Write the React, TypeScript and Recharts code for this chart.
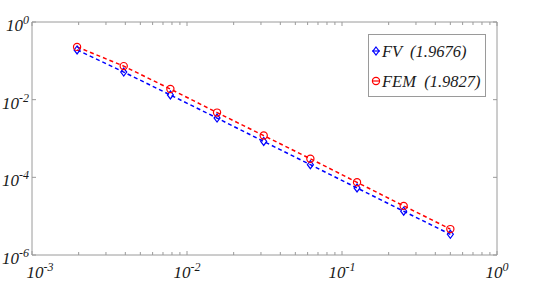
import React from 'react';
import { LineChart, Line, XAxis, YAxis, ReferenceArea } from 'recharts';

// mesh sizes h
const hValues = [1 / 512, 1 / 256, 1 / 128, 1 / 64, 1 / 32, 1 / 16, 1 / 8, 1 / 4, 1 / 2];
// errors
const fvErrors = [0.1914, 0.0513, 0.0132, 3.36e-3, 8.38e-4, 2.12e-4, 5.32e-5, 1.34e-5, 3.4e-6];
const femErrors = [0.2286, 0.0731, 0.0188, 4.65e-3, 1.19e-3, 3.01e-4, 7.45e-5, 1.84e-5, 4.65e-6];

const seriesNames = ['FV  (1.9676)', 'FEM  (1.9827)'];

const xMajorTicks = [0.001, 0.01, 0.1, 1];
const xMajorExponents = ['-3', '-2', '-1', '0'];
const xMinorTicks = [
  0.002, 0.003, 0.004, 0.005, 0.006, 0.007, 0.008, 0.009,
  0.02, 0.03, 0.04, 0.05, 0.06, 0.07, 0.08, 0.09,
  0.2, 0.3, 0.4, 0.5, 0.6, 0.7, 0.8, 0.9,
];
const yMajorTicks = [1e-6, 1e-4, 1e-2, 1];
const yMajorExponents = ['-6', '-4', '-2', '0'];

const data = hValues.map((h, i) => ({ h, fv: fvErrors[i], fem: femErrors[i] }));

const W = 554;
const H = 287;
const PLOT_LEFT = 32;
const PLOT_RIGHT = 497;
const PLOT_TOP = 22;
const PLOT_BOTTOM = 255;
const AXIS_COLOR = '#9a9a9a';
const FONT = 'Liberation Serif, DejaVu Serif Condensed, DejaVu Serif';
const BLUE = '#0000ff';
const RED = '#ff0000';

const XTick = (props: any) => {
  const { x, payload } = props;
  const v = payload.value;
  const idx = xMajorTicks.findIndex((t) => Math.abs(t - v) / v < 1e-6);
  const major = idx >= 0;
  const len = major ? 4 : 3;
  const dx = idx === 0 ? 8 : 0;
  return (
    <g>
      <line x1={x} x2={x} y1={PLOT_BOTTOM} y2={PLOT_BOTTOM - len} stroke={AXIS_COLOR} strokeWidth={1} />
      <line x1={x} x2={x} y1={PLOT_TOP} y2={PLOT_TOP + len} stroke={AXIS_COLOR} strokeWidth={1} />
      {major && (
        <text x={x + dx} y={278} textAnchor="middle" fontSize={17} fill="#1a1a1a" fontFamily={FONT} fontStyle="italic">
          <tspan>10</tspan>
          <tspan dy={-7} fontSize={12}>{xMajorExponents[idx]}</tspan>
        </text>
      )}
    </g>
  );
};

const YTick = (props: any) => {
  const { y, payload } = props;
  const v = payload.value;
  const idx = yMajorTicks.findIndex((t) => Math.abs(t - v) / v < 1e-6);
  return (
    <g>
      <line x1={PLOT_LEFT} x2={PLOT_LEFT + 4} y1={y} y2={y} stroke={AXIS_COLOR} strokeWidth={1} />
      <line x1={PLOT_RIGHT} x2={PLOT_RIGHT - 4} y1={y} y2={y} stroke={AXIS_COLOR} strokeWidth={1} />
      {idx >= 0 && (
        <text x={29} y={y + 9} textAnchor="end" fontSize={17} fill="#1a1a1a" fontFamily={FONT} fontStyle="italic">
          <tspan>10</tspan>
          <tspan dy={-7} fontSize={12}>{yMajorExponents[idx]}</tspan>
        </text>
      )}
    </g>
  );
};

const Diamond = (props: any) => {
  const { cx, cy } = props;
  if (cx == null || cy == null) return null;
  return (
    <path
      d={`M${cx},${cy - 4} L${cx + 3},${cy} L${cx},${cy + 4} L${cx - 3},${cy} Z`}
      fill="none"
      stroke={BLUE}
      strokeWidth={1.2}
    />
  );
};

const Circle = (props: any) => {
  const { cx, cy } = props;
  if (cx == null || cy == null) return null;
  return <circle cx={cx} cy={cy} r={3.6} fill="none" stroke={RED} strokeWidth={1.2} />;
};

const LegendBox = () => (
  <svg width={120} height={66} style={{ position: 'absolute', left: 367, top: 33 }}>
    <rect x={1.5} y={1.5} width={117} height={62} fill="#fff" stroke={AXIS_COLOR} strokeWidth={1} />
    <line x1={5} x2={13} y1={18} y2={18} stroke={BLUE} strokeWidth={1.2} />
    <path d="M9,14 L12,18 L9,22 L6,18 Z" fill="none" stroke={BLUE} strokeWidth={1.2} />
    <text x={15} y={23.5} fontSize={16.5} fill="#1a1a1a" fontFamily={FONT} fontStyle="italic" style={{ whiteSpace: 'pre' }}>
      {seriesNames[0]}
    </text>
    <line x1={5} x2={13} y1={48} y2={48} stroke={RED} strokeWidth={1.2} />
    <circle cx={9} cy={48} r={3.6} fill="none" stroke={RED} strokeWidth={1.2} />
    <text x={15} y={53.5} fontSize={16.5} fill="#1a1a1a" fontFamily={FONT} fontStyle="italic" style={{ whiteSpace: 'pre' }}>
      {seriesNames[1]}
    </text>
  </svg>
);

export default function App() {
  return (
    <div style={{ position: 'absolute', left: 0, top: 0, width: W, height: H, background: '#fff' }}>
      <LineChart
        width={W}
        height={H}
        data={data}
        margin={{ top: PLOT_TOP, right: W - PLOT_RIGHT, bottom: 0, left: 0 }}
      >
        <XAxis
          dataKey="h"
          type="number"
          scale="log"
          domain={[0.001, 1]}
          ticks={[...xMajorTicks, ...xMinorTicks]}
          interval={0}
          allowDataOverflow
          axisLine={false}
          tickLine={false}
          tick={<XTick />}
          height={H - PLOT_BOTTOM}
        />
        <YAxis
          type="number"
          scale="log"
          domain={[1e-6, 1]}
          ticks={yMajorTicks}
          interval={0}
          allowDataOverflow
          axisLine={false}
          tickLine={false}
          tick={<YTick />}
          width={PLOT_LEFT}
        />
        <ReferenceArea
          x1={0.001}
          x2={1}
          y1={1e-6}
          y2={1}
          fill="none"
          fillOpacity={0}
          stroke={AXIS_COLOR}
          strokeWidth={1}
          ifOverflow="visible"
        />
        <Line
          dataKey="fv"
          stroke={BLUE}
          strokeWidth={1.5}
          strokeDasharray="4 3"
          dot={<Diamond />}
          activeDot={false}
          isAnimationActive={false}
        />
        <Line
          dataKey="fem"
          stroke={RED}
          strokeWidth={1.5}
          strokeDasharray="4 3"
          dot={<Circle />}
          activeDot={false}
          isAnimationActive={false}
        />
      </LineChart>
      <LegendBox />
    </div>
  );
}
